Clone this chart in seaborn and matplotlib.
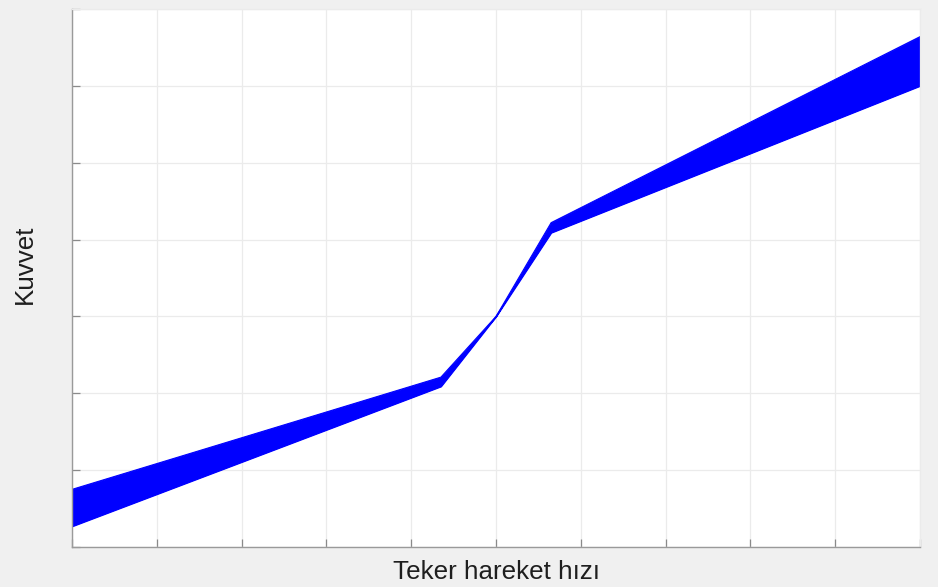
import matplotlib
matplotlib.use("Agg")
import matplotlib.pyplot as plt
import numpy as np
import pandas as pd
import seaborn as sns

# Band breakpoints: wheel speed vs. force envelope
speed = [-1.0, -0.13, 0.0, 0.13, 1.0]
force_upper = [-2.25, -0.79, 0.0, 1.22, 3.64]
force_lower = [-2.73, -0.91, 0.0, 1.09, 3.00]

x_ticks = np.round(np.arange(-1.0, 1.0001, 0.2), 2)
y_ticks = np.arange(-3, 5, 1)

sns.set_theme(style="whitegrid")
plt.rcParams["font.family"] = ["Liberation Sans", "DejaVu Sans"]

fig = plt.figure(figsize=(9.38, 5.87), dpi=100, facecolor="#f0f0f0")
ax = fig.add_axes([0.0768, 0.0681, 0.9040, 0.9166])
ax.set_facecolor("white")

band = pd.DataFrame({"speed": speed, "upper": force_upper, "lower": force_lower})
ax.fill_between(band["speed"], band["lower"], band["upper"], color="#0000ff", linewidth=0.8, edgecolor="#0000ff")
sns.lineplot(data=band, x="speed", y="upper", ax=ax, color="#0000ff", linewidth=0.8)
sns.lineplot(data=band, x="speed", y="lower", ax=ax, color="#0000ff", linewidth=0.8)

ax.set_xlim(-1, 1)
ax.set_ylim(-3, 4)
ax.set_xticks(x_ticks)
ax.set_yticks(y_ticks)
ax.set_xticklabels([])
ax.set_yticklabels([])
ax.grid(True, color="#ebebeb", linewidth=0.9)
ax.tick_params(axis="both", direction="in", length=6, width=0.9, color="#8a8a8a",
               bottom=True, left=True, top=False, right=False)

for side in ["top", "right"]:
    ax.spines[side].set_color("#ebebeb")
    ax.spines[side].set_linewidth(0.9)
for side in ["left", "bottom"]:
    ax.spines[side].set_color("#9a9a9a")
    ax.spines[side].set_linewidth(1.0)

ax.set_xlabel("Teker hareket hızı", fontsize=18.7, color="#1e1e1e", labelpad=6)
ax.set_ylabel("Kuvvet", fontsize=18.7, color="#1e1e1e")
ax.yaxis.set_label_coords(-0.041, 0.525)

fig.savefig("out.png", dpi=100, facecolor=fig.get_facecolor())
